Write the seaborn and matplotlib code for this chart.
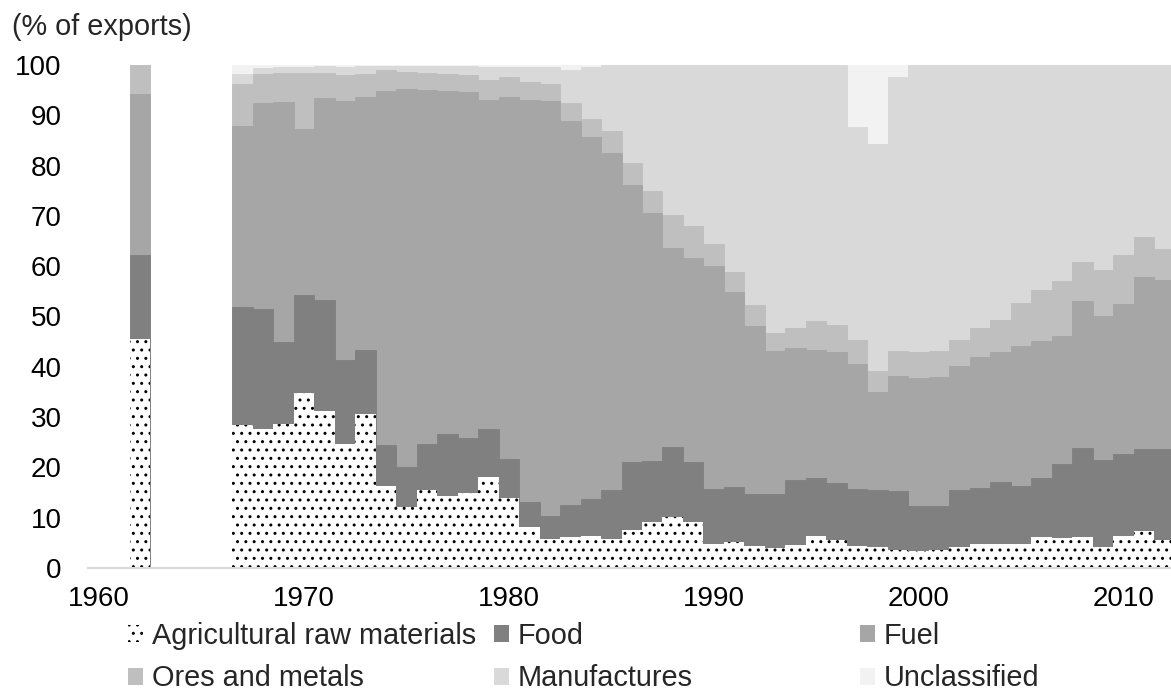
import pandas as pd
import matplotlib.pyplot as plt
import seaborn as sns
from matplotlib.patches import Patch

# share of exports by product group (%)
years = [1962] + list(range(1967, 2013))
agri = [45.5, 28.4, 27.6, 28.6, 34.7, 31.3, 24.6, 30.6, 16.3, 12.1, 15.6, 14.3, 14.9, 18.0, 14.0, 8.1,
        5.7, 6.1, 6.4, 5.7, 7.5, 9.2, 10.2, 9.1, 4.7, 5.1, 4.4, 4.0, 4.6, 6.3, 5.6, 4.4, 4.2, 3.6,
        3.4, 3.5, 4.2, 4.7, 4.7, 4.8, 6.1, 5.9, 6.1, 4.2, 6.3, 7.3, 5.6]
food = [16.8, 23.5, 23.9, 16.4, 19.6, 21.9, 16.8, 12.7, 8.1, 8.0, 9.0, 12.3, 10.9, 9.7, 7.7, 5.0,
        4.7, 6.4, 7.4, 9.9, 13.5, 12.0, 13.9, 11.9, 11.1, 11.1, 10.3, 10.8, 12.8, 11.5, 11.2, 11.4, 11.4, 11.7,
        8.9, 8.8, 11.4, 11.3, 12.3, 11.6, 11.7, 14.8, 17.7, 17.3, 16.3, 16.3, 18.0]
fuel = [32.0, 36.0, 40.9, 47.6, 32.9, 40.2, 51.5, 50.3, 70.4, 75.2, 70.5, 68.2, 68.8, 65.4, 72.0, 80.0,
        82.5, 76.4, 71.9, 66.9, 55.1, 49.3, 39.6, 40.6, 44.3, 38.7, 33.4, 28.4, 26.4, 25.6, 26.1, 24.8, 19.3, 22.9,
        25.5, 25.7, 24.5, 26.0, 25.9, 27.7, 27.3, 25.4, 29.3, 28.6, 29.9, 34.3, 33.6]
ores = [5.7, 8.4, 5.8, 5.9, 11.3, 5.1, 5.1, 4.6, 4.2, 3.4, 3.4, 3.5, 3.4, 3.9, 3.9, 3.5,
        3.4, 3.5, 3.5, 4.4, 4.5, 4.4, 6.5, 6.4, 4.3, 4.0, 4.1, 3.6, 4.0, 5.8, 5.5, 4.7, 4.3, 4.9,
        5.1, 5.2, 5.2, 5.7, 6.5, 8.6, 10.1, 10.9, 7.8, 9.2, 9.8, 7.9, 6.3]
manuf = [0.0, 2.0, 1.3, 1.1, 1.2, 1.3, 1.7, 1.6, 0.9, 1.1, 1.3, 1.5, 1.8, 2.7, 2.1, 3.1,
         3.3, 6.6, 10.5, 13.1, 19.4, 25.1, 29.8, 32.0, 35.6, 41.1, 47.8, 53.2, 52.2, 50.8, 51.6, 42.4, 45.1, 54.5,
         57.1, 56.8, 54.7, 52.3, 50.6, 47.3, 44.8, 43.0, 39.1, 40.7, 37.7, 34.2, 36.5]
unclass = [0.0, 1.7, 0.5, 0.4, 0.3, 0.2, 0.3, 0.2, 0.1, 0.2, 0.2, 0.2, 0.2, 0.3, 0.3, 0.3,
           0.4, 1.0, 0.3, 0.0, 0.0, 0.0, 0.0, 0.0, 0.0, 0.0, 0.0, 0.0, 0.0, 0.0, 0.0, 12.3, 15.7, 2.4,
           0.0, 0.0, 0.0, 0.0, 0.0, 0.0, 0.0, 0.0, 0.0, 0.0, 0.0, 0.0, 0.0]

categories = ["Agricultural raw materials", "Food", "Fuel",
              "Ores and metals", "Manufactures", "Unclassified"]
colors = ["white", "#808080", "#a6a6a6", "#bfbfbf", "#d9d9d9", "#f2f2f2"]

sns.set_theme(style="white")
plt.rcParams["font.family"] = ["Liberation Sans", "DejaVu Sans"]
plt.rcParams["hatch.color"] = "black"
plt.rcParams["hatch.linewidth"] = 1.0

df = pd.DataFrame(dict(zip(categories, [agri, food, fuel, ores, manuf, unclass])))
df.insert(0, "year", years)
cum = df[categories].cumsum(axis=1)

W, H = 1171, 692
fig = plt.figure(figsize=(W / 100, H / 100), dpi=100)
ax = fig.add_axes([88 / W, 1 - 568 / H, 1 - 88 / W, (568 - 65) / H])

# stacked bars: draw cumulative totals from the top layer down
for cat, col in reversed(list(zip(categories, colors))):
    if cat == categories[0]:
        kw = dict(hatch="..", edgecolor="black", linewidth=0)
    else:
        kw = dict(edgecolor=col, linewidth=0.6)
    sns.barplot(x=df["year"], y=cum[cat], native_scale=True, width=1, color=col,
                saturation=1, errorbar=None, ax=ax, **kw)

ax.set_xlim(1959.45, 2012.33)
ax.set_ylim(0, 100)
ax.set_xticks(range(1960, 2011, 10))
ax.set_yticks(range(0, 101, 10))
ax.set_xlabel("")
ax.set_ylabel("")
ax.tick_params(axis="both", length=0, labelsize=20, colors="black")
ax.tick_params(axis="x", pad=13)
ax.tick_params(axis="y", pad=19)
sns.despine(ax=ax, left=True)
ax.spines["bottom"].set_color("#d9d9d9")
ax.spines["bottom"].set_linewidth(1.5)

fig.text(12 / W, 1 - 27 / H, "(% of exports)", fontsize=20.8, va="center", ha="left")

# legend in three fixed columns
handles = [Patch(facecolor=c, edgecolor="black" if i == 0 else c,
                 hatch=".." if i == 0 else None, linewidth=0, label=l)
           for i, (l, c) in enumerate(zip(categories, colors))]
for k, xpos in enumerate([128, 494, 860]):
    fig.legend(handles=[handles[k], handles[k + 3]], loc="upper left",
               bbox_to_anchor=(xpos / W, 1 - 622 / H), frameon=False, fontsize=20.8,
               handlelength=0.53, handleheight=0.53, handletextpad=0.3,
               labelspacing=0.5, borderpad=0, borderaxespad=0)

fig.savefig("out.png", dpi=100)
